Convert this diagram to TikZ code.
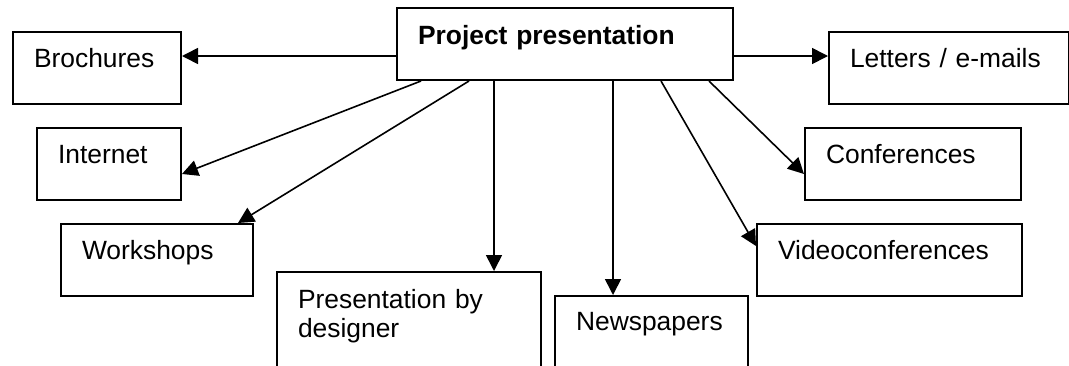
\documentclass[tikz,border=0pt]{standalone}
\usepackage{fontspec}
\setmainfont{Liberation Sans}
\usetikzlibrary{arrows.meta}
\tikzstyle{box} = [draw=black, line width=1.5pt, rectangle, anchor=north west, align=left, inner xsep=15.75pt, inner ysep=0pt, text height=26.25pt, text depth=27.75pt, font={\fontsize{19.8}{21.75}\selectfont}]
\tikzstyle{title} = [font={\bfseries\fontsize{19.8}{21.75}\selectfont}, text height=27pt, text depth=27pt]
\tikzstyle{link} = [line width=1.2pt, -{Triangle[length=12pt,width=12pt]}]

\begin{document}
\begin{tikzpicture}[x=0.75pt,y=-0.75pt]
    \useasboundingbox (0,0) rectangle (1069,365);
    \node[box,title,text width=220.5pt](proj) at (396,7){Project presentation};
    \node[box,text width=94.5pt](broch) at (12,31){Brochures};
    \node[box,text width=76.5pt](int) at (36,127){Internet};
    \node[box,text width=112.5pt](work) at (60,223){Workshops};
    \node[box,text width=166.5pt,text height=27pt,text depth=90pt](dsgn) at (276,271){Presentation by\\designer};
    \node[box,text width=113.25pt,text height=25.5pt,text depth=90pt](news) at (554,295){Newspapers};
    \node[box,text width=148.5pt](lett) at (828,31){Letters / e-mails};
    \node[box,text width=130.5pt](conf) at (804,127){Conferences};
    \node[box,text width=167.25pt](video) at (756,223){Videoconferences};
    \draw[link]([yshift=-9pt]proj.west)--([yshift=9pt]broch.east);
    \draw[link]([yshift=-9pt]proj.east)--([yshift=9pt]lett.west);
    \draw[link]([xshift=-108pt]proj.south)--([yshift=-7.5pt]int.east);
    \draw[link]([xshift=-72pt]proj.south)--([xshift=60.75pt]work.north);
    \draw[link]([xshift=-53.25pt]proj.south)coordinate(d)--(d|-dsgn.north);
    \draw[link]([xshift=36pt]proj.south)coordinate(n)--(n|-news.north);
    \draw[link]([xshift=72pt]proj.south)--([yshift=10.5pt]video.west);
    \draw[link]([xshift=108pt]proj.south)--([yshift=-7.5pt]conf.west);
  \end{tikzpicture}
\end{document}
